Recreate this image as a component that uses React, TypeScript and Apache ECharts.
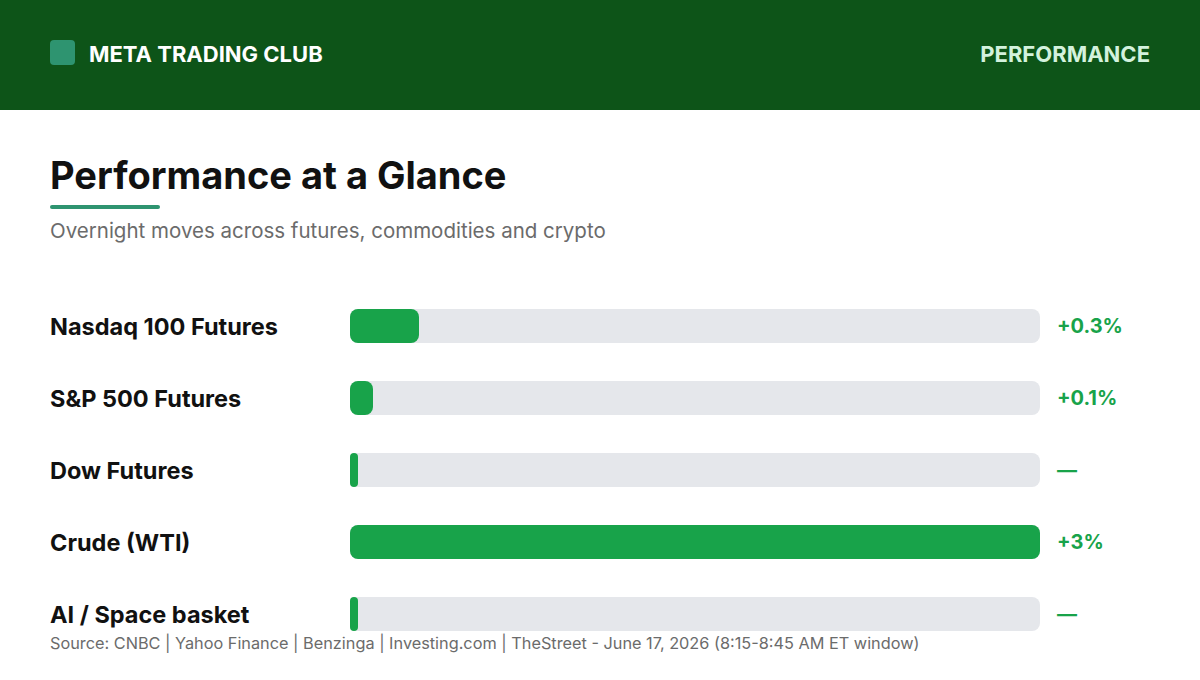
import React, { useEffect, useRef } from "react";
import * as echarts from "echarts";

const categories = [
  "Nasdaq 100 Futures",
  "S&P 500 Futures",
  "Dow Futures",
  "Crude (WTI)",
  "AI / Space basket",
];
const changes = [0.3, 0.1, 0, 3, 0];
const changeLabels = ["+0.3%", "+0.1%", "—", "+3%", "—"];
const axisMax = 3;

const FONT = "Inter, 'Noto Sans', sans-serif";
const GREEN = "#18A34A";
const TRACK = "#E5E7EB";

export default function App() {
  const ref = useRef<HTMLDivElement>(null);

  useEffect(() => {
    if (!ref.current) return;
    const chart = echarts.init(ref.current, undefined, { renderer: "svg" });
    chart.setOption({
      animation: false,
      backgroundColor: "#FFFFFF",
      graphic: [
        { type: "rect", left: 0, top: 0, shape: { width: 1200, height: 110 }, style: { fill: "#0D5418" } },
        { type: "rect", left: 50, top: 40, shape: { width: 25, height: 25, r: 4 }, style: { fill: "#2E9470" } },
        {
          type: "text", left: 89, top: 43,
          style: { text: "META TRADING CLUB", fill: "#FFFFFF", font: `700 22px ${FONT}` },
        },
        {
          type: "text", right: 50, top: 43,
          style: { text: "PERFORMANCE", fill: "#D3F2DD", font: `700 22px ${FONT}` },
        },
        {
          type: "text", left: 50, top: 156,
          style: { text: "Performance at a Glance", fill: "#111111", font: `700 38px ${FONT}` },
        },
        { type: "rect", left: 50, top: 205, shape: { width: 110, height: 4, r: 2 }, style: { fill: "#2E9470" } },
        {
          type: "text", left: 50, top: 220,
          style: { text: "Overnight moves across futures, commodities and crypto", fill: "#6B6B6B", font: `400 20.5px ${FONT}` },
        },
        {
          type: "text", left: 50, top: 635,
          style: {
            text: "Source: CNBC | Yahoo Finance | Benzinga | Investing.com | TheStreet - June 17, 2026 (8:15-8:45 AM ET window)",
            fill: "#6B6B6B", font: `400 16.3px ${FONT}`,
          },
        },
      ],
      grid: { left: 350, right: 160, top: 290, bottom: 30 },
      xAxis: {
        type: "value", min: 0, max: axisMax,
        show: false,
      },
      yAxis: [
        {
          type: "category", inverse: true, data: categories,
          axisLine: { show: false }, axisTick: { show: false },
          axisLabel: {
            align: "left", margin: 300,
            color: "#111111", fontFamily: FONT, fontWeight: 700, fontSize: 23.5,
          },
        },
        {
          type: "category", inverse: true, position: "right", data: changeLabels,
          axisLine: { show: false }, axisTick: { show: false },
          axisLabel: {
            align: "left", margin: 17,
            color: GREEN, fontFamily: FONT, fontWeight: 700, fontSize: 20,
          },
        },
      ],
      series: [
        {
          type: "bar",
          data: changes.map((v) => ({
            value: v,
            itemStyle: { borderRadius: v === 0 ? 4 : 8 },
          })),
          barWidth: 34,
          barMinHeight: 8,
          itemStyle: { color: GREEN },
          showBackground: true,
          backgroundStyle: { color: TRACK, borderRadius: 8 },
        },
      ],
    });
    return () => chart.dispose();
  }, []);

  return <div ref={ref} style={{ width: 1200, height: 680, position: "absolute", left: 0, top: 0 }} />;
}
